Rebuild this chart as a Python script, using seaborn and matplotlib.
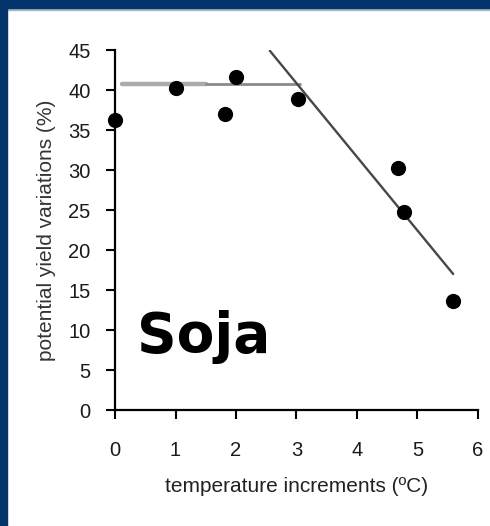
import numpy as np
import pandas as pd
import seaborn as sns
import matplotlib.pyplot as plt
from matplotlib.patches import Rectangle

# observed points
temp_incr = [0.0, 1.0, 1.82, 2.0, 3.02, 4.68, 4.78, 5.58]
yield_var = [36.3, 40.2, 37.0, 41.6, 38.9, 30.3, 24.8, 13.6]

# plateau line (two segments, the first one drawn lighter/thicker)
plateau_x = [0.11, 1.51, 3.06]
plateau_y = [40.7, 40.7, 40.7]

# declining line
decline_x = [2.56, 5.59]
decline_y = [44.9, 17.0]

xticks = [0, 1, 2, 3, 4, 5, 6]
yticks = [0, 5, 10, 15, 20, 25, 30, 35, 40, 45]

sns.set_style("white")
plt.rcParams['font.family'] = ['Liberation Sans', 'DejaVu Sans']

fig = plt.figure(figsize=(4.9, 5.26), dpi=100)
ax = fig.add_axes([0.2347, 0.2205, 0.7408, 0.6844])

pts = pd.DataFrame({"x": temp_incr, "y": yield_var})
sns.scatterplot(data=pts, x="x", y="y", ax=ax, color="black", s=120,
                linewidth=0, clip_on=False, zorder=4)

sns.lineplot(x=plateau_x[:2], y=plateau_y[:2], ax=ax, color="#ababab", lw=3.2)
sns.lineplot(x=plateau_x[1:], y=plateau_y[1:], ax=ax, color="#8a8a8a", lw=2.0)
sns.lineplot(x=decline_x, y=decline_y, ax=ax, color="#474747", lw=1.7)

ax.set_xlim(0, 6)
ax.set_ylim(0, 45)
ax.set_xticks(xticks)
ax.set_yticks(yticks)
ax.tick_params(axis="both", direction="out", length=6.5, width=1.5,
               color="black", labelsize=14.5, labelcolor="#1a1a1a")
ax.tick_params(axis="x", pad=16)
ax.tick_params(axis="y", pad=11)
ax.tick_params(left=True, bottom=True)

sns.despine(ax=ax)
for side in ["left", "bottom"]:
    ax.spines[side].set_linewidth(1.6)
    ax.spines[side].set_color("black")

ax.set_xlabel("temperature increments (ºC)", fontsize=15, color="#222222", labelpad=12)
ax.set_ylabel("potential yield variations (%)", fontsize=15, color="#333333", labelpad=9)

ax.text(0.36, 7.25, "Soja", fontsize=39.5, fontweight="bold", color="black",
        family="DejaVu Sans", va="baseline", ha="left")

# navy frame on top and left edges
fig.patches.append(Rectangle((0, 1 - 8 / 526), 1, 8 / 526, transform=fig.transFigure,
                             color="#03346a", zorder=10))
fig.patches.append(Rectangle((0, 1 - 9.5 / 526), 1, 1.5 / 526, transform=fig.transFigure,
                             color="#a9b8c8", zorder=9))
fig.patches.append(Rectangle((0, 0), 7 / 490, 1, transform=fig.transFigure,
                             color="#03346a", zorder=10))

fig.savefig("out.png", dpi=100)
